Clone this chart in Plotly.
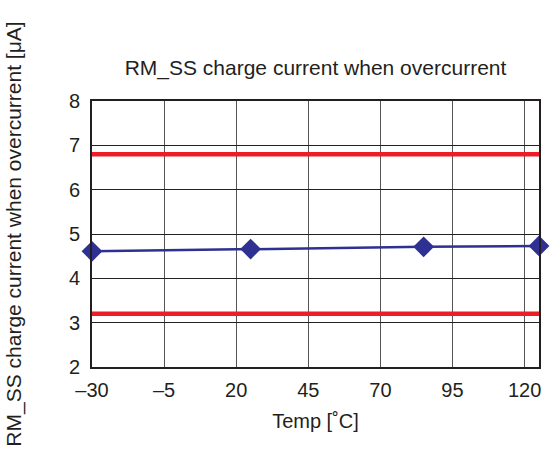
import plotly.graph_objects as go

temps = [-30, 25, 85, 125]
current = [4.61, 4.66, 4.71, 4.73]
limit_x = [-30, 125]
upper_limit = [6.8, 6.8]
lower_limit = [3.2, 3.2]
x_ticks = [-30, -5, 20, 45, 70, 95, 120]
y_ticks = [2, 3, 4, 5, 6, 7, 8]

FONT = "Liberation Sans, Arial, Helvetica, sans-serif"

fig = go.Figure()
fig.add_trace(go.Scatter(x=limit_x, y=upper_limit, mode="lines",
                         line=dict(color="#ee1c25", width=4.5), showlegend=False))
fig.add_trace(go.Scatter(x=limit_x, y=lower_limit, mode="lines",
                         line=dict(color="#ee1c25", width=4.5), showlegend=False))
fig.add_trace(go.Scatter(x=temps, y=current, mode="lines+markers",
                         line=dict(color="#2e3192", width=2.5),
                         marker=dict(symbol="diamond", size=16, color="#2e3192"),
                         cliponaxis=False, showlegend=False))

fig.update_layout(
    width=553, height=462,
    margin=dict(l=91, r=13, t=101, b=95),
    paper_bgcolor="white", plot_bgcolor="white",
    font=dict(family=FONT, size=20, color="#231f20"),
    title=dict(text="RM_SS charge current when overcurrent",
               x=0.5, xanchor="center", xref="paper", y=0.853, yanchor="middle",
               font=dict(size=21, family=FONT, color="#231f20")),
    xaxis=dict(range=[-30, 125], tickmode="array", tickvals=x_ticks,
               ticktext=[str(v).replace("-", "\u2013") for v in x_ticks],
               showgrid=True, gridcolor="#555555", gridwidth=1,
               showline=True, mirror=True, linecolor="#231f20", linewidth=2,
               zeroline=False, ticks="outside", ticklen=4, tickcolor="rgba(0,0,0,0)",
               tickfont=dict(size=20),
               title=dict(text="Temp [˚C]", standoff=14, font=dict(size=20))),
    yaxis=dict(range=[2, 8], tickmode="array", tickvals=y_ticks,
               showgrid=True, gridcolor="#222222", gridwidth=1,
               showline=True, mirror=True, linecolor="#231f20", linewidth=2,
               zeroline=False, ticks="outside", ticklen=6, tickcolor="rgba(0,0,0,0)",
               tickfont=dict(size=20),
               title=dict(text="RM_SS charge current when overcurrent [μA]",
                          standoff=42, font=dict(size=21))),
)

fig.write_html("out.html", config={"displayModeBar": False},
               post_script="document.body.style.margin='0';")
